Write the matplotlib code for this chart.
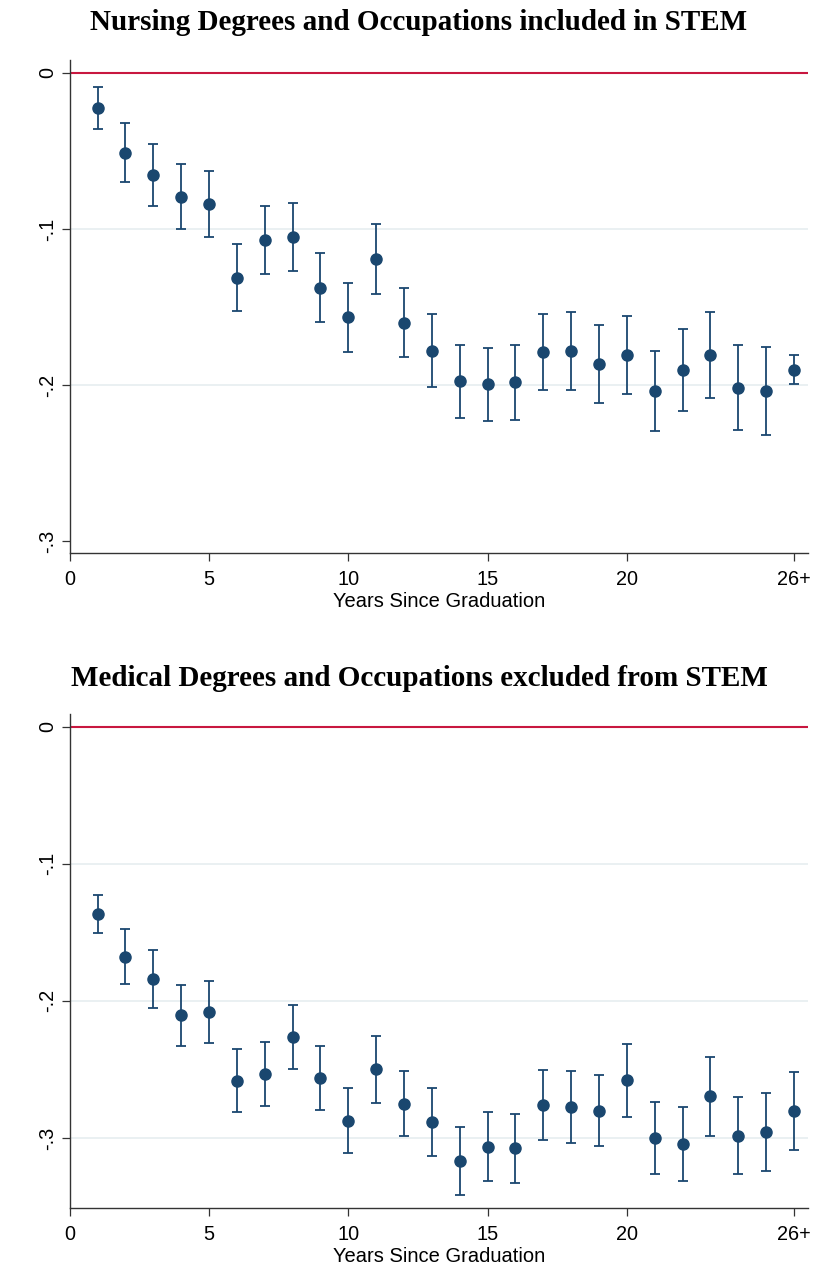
import numpy as np
import matplotlib
matplotlib.use('Agg')
import matplotlib.pyplot as plt

# years since graduation (26 = 26+)
years = np.arange(1, 27)

# Nursing degrees and occupations included in STEM
nurse_b = [-0.0226, -0.0511, -0.0654, -0.0793, -0.0840, -0.1314, -0.1071, -0.1053, -0.1376, -0.1566,
           -0.1190, -0.1600, -0.1780, -0.1974, -0.1996, -0.1983, -0.1786, -0.1784, -0.1865, -0.1808,
           -0.2038, -0.1906, -0.1806, -0.2017, -0.2038, -0.1902]
nurse_hi = [-0.0088, -0.0318, -0.0457, -0.0585, -0.0630, -0.1098, -0.0850, -0.0831, -0.1152, -0.1344,
            -0.0966, -0.1378, -0.1547, -0.1741, -0.1761, -0.1744, -0.1543, -0.1530, -0.1618, -0.1558,
            -0.1782, -0.1641, -0.1532, -0.1741, -0.1756, -0.1806]
nurse_lo = [-0.0361, -0.0701, -0.0850, -0.0998, -0.1049, -0.1526, -0.1286, -0.1271, -0.1598, -0.1788,
            -0.1415, -0.1823, -0.2013, -0.2209, -0.2233, -0.2222, -0.2030, -0.2034, -0.2113, -0.2056,
            -0.2297, -0.2169, -0.2081, -0.2291, -0.2318, -0.1994]

# Medical degrees and occupations excluded from STEM
med_b = [-0.1366, -0.1678, -0.1843, -0.2103, -0.2084, -0.2582, -0.2533, -0.2266, -0.2563, -0.2876,
         -0.2499, -0.2750, -0.2886, -0.3170, -0.3063, -0.3076, -0.2760, -0.2777, -0.2803, -0.2580,
         -0.3003, -0.3046, -0.2694, -0.2986, -0.2959, -0.2801]
med_hi = [-0.1230, -0.1478, -0.1631, -0.1882, -0.1855, -0.2354, -0.2298, -0.2028, -0.2327, -0.2636,
          -0.2259, -0.2509, -0.2636, -0.2920, -0.2813, -0.2823, -0.2504, -0.2514, -0.2543, -0.2315,
          -0.2740, -0.2777, -0.2407, -0.2704, -0.2674, -0.2516]
med_lo = [-0.1503, -0.1877, -0.2052, -0.2327, -0.2310, -0.2813, -0.2767, -0.2499, -0.2798, -0.3112,
          -0.2743, -0.2986, -0.3132, -0.3418, -0.3314, -0.3326, -0.3015, -0.3039, -0.3061, -0.2845,
          -0.3265, -0.3316, -0.2983, -0.3265, -0.3241, -0.3085]

titles = ['Nursing Degrees and Occupations included in STEM',
          'Medical Degrees and Occupations excluded from STEM']
xticks = [0, 5, 10, 15, 20, 26]
xticklabels = ['0', '5', '10', '15', '20', '26+']
yticks = [0, -0.1, -0.2, -0.3]
yticklabels = ['0', '-.1', '-.2', '-.3']

W, H = 823, 1281
navy = '#1a476f'
red = '#c8173f'
grid_c = '#e6eef0'

fig = plt.figure(figsize=(W / 100, H / 100), dpi=100)
fig.patch.set_facecolor('white')


def make_panel(top, bottom, b, lo, hi, title, ylim, title_y, gridvals):
    ax = fig.add_axes([69.7 / W, 1 - bottom / H, (808 - 69.7) / W, (bottom - top) / H])
    b = np.array(b)
    err = [b - np.array(lo), np.array(hi) - b]
    for g in gridvals:
        ax.axhline(g, color=grid_c, lw=1.2, zorder=0)
    ax.axhline(0, color=red, lw=1.5, zorder=1)
    ax.errorbar(years, b, yerr=err, fmt='o', color=navy, ms=8, elinewidth=1.3,
                capsize=3.8, capthick=1.3, zorder=3)
    ax.set_xlim(0, 26.5)
    ax.set_ylim(*ylim)
    ax.set_xticks(xticks)
    ax.set_xticklabels(xticklabels, fontsize=14.3, family='Liberation Sans')
    ax.set_yticks(yticks)
    ax.set_yticklabels(yticklabels, fontsize=14.3, family='Liberation Sans',
                       rotation=90, va='center')
    ax.tick_params(direction='out', length=6, width=0.9, color='#333333', pad=6)
    ax.tick_params(axis='y', pad=2.7)
    for s in ['top', 'right']:
        ax.spines[s].set_visible(False)
    for s in ['left', 'bottom']:
        ax.spines[s].set_color('#333333')
        ax.spines[s].set_linewidth(1.0)
    ax.set_xlabel('Years Since Graduation', fontsize=14.5, family='Liberation Sans', labelpad=2.5)
    fig.text(419 / W, 1 - title_y / H, title, ha='center', va='center',
             fontsize=21, fontweight='bold', family='Liberation Serif')
    return ax


make_panel(60, 553, nurse_b, nurse_lo, nurse_hi, titles[0], (-0.3077, 0.0083), 23, [-0.1, -0.2])
make_panel(714, 1208.3, med_b, med_lo, med_hi, titles[1], (-0.3513, 0.0093), 678, [-0.1, -0.2, -0.3])

fig.savefig('out.png', dpi=100, facecolor='white')
